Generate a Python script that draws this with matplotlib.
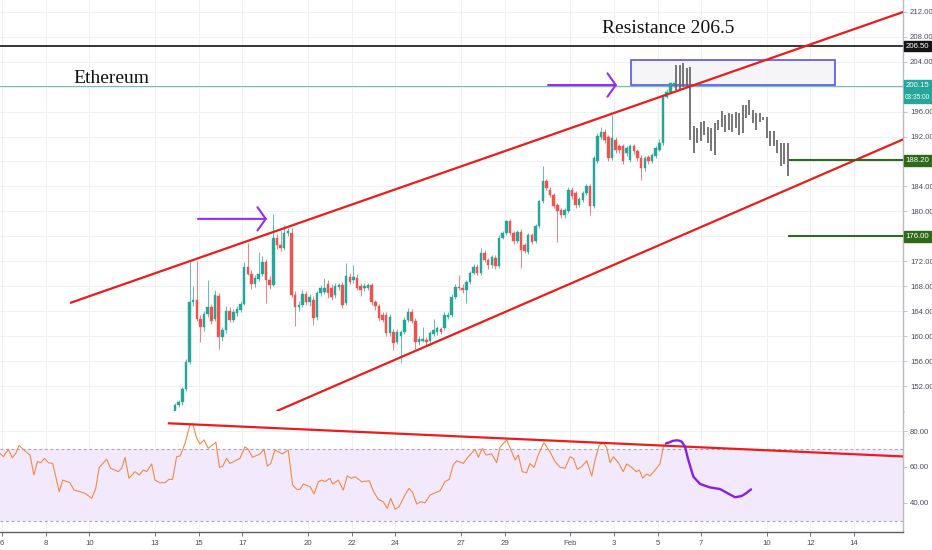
import matplotlib
matplotlib.use("Agg")
import matplotlib.pyplot as plt
import numpy as np
import pandas as pd
from matplotlib.transforms import blended_transform_factory
from matplotlib.patches import Rectangle
from matplotlib import font_manager as fm

# ---------------- data ----------------
base_date = pd.Timestamp("2020-01-06")
tick_dates = ["2020-01-06", "2020-01-08", "2020-01-10", "2020-01-13", "2020-01-15", "2020-01-17",
              "2020-01-20", "2020-01-22", "2020-01-24", "2020-01-27", "2020-01-29", "2020-02-01",
              "2020-02-03", "2020-02-05", "2020-02-07", "2020-02-10", "2020-02-12", "2020-02-14"]
tick_labels = ["6", "8", "10", "13", "15", "17", "20", "22", "24", "27", "29", "Feb",
               "3", "5", "7", "10", "12", "14"]

candle_start = pd.Timestamp("2020-01-13 22:00")  # 4H candles
opens = [147.4,149.0,149.4,151.5,155.8,165.5,165.8,162.7,161.5,163.5,
         164.6,162.8,166.4,159.8,161.0,164.1,162.6,163.7,164.2,165.2,
         171.1,170.0,168.4,169.1,170.0,171.9,169.0,168.2,175.7,174.6,
         174.1,176.5,176.6,166.6,164.7,165.0,166.8,165.5,165.8,163.0,
         166.9,167.1,168.4,167.8,166.6,167.9,168.2,165.3,169.5,169.0,
         169.4,168.0,167.7,167.8,168.2,165.4,164.8,163.4,163.4,160.5,
         160.7,159.1,160.0,160.7,162.6,163.8,162.5,159.1,159.3,159.4,
         159.2,160.4,160.6,161.1,161.3,163.1,163.4,166.3,167.9,167.8,
         167.4,168.7,170.2,171.1,170.1,173.3,172.2,171.4,172.6,171.2,
         175.8,176.5,178.4,176.5,175.2,176.7,174.6,173.5,176.2,175.3,
         177.7,181.6,184.8,183.5,182.6,181.0,180.2,179.4,180.0,183.5,
         182.9,181.0,181.8,182.9,184.0,180.8,188.0,191.9,192.8,191.9,
         188.5,191.5,190.4,190.4,189.3,188.2,190.4,189.6,188.5,186.9,
         188.7,188.0,188.9,189.9,190.9,198.4,199.2,200.3]
highs = [149.3,149.8,151.8,156.4,172.0,168.0,172.0,163.4,164.0,169.0,
         165.2,167.4,167.0,161.5,164.8,164.6,164.3,164.8,165.6,171.9,
         174.9,170.6,169.8,173.5,172.8,172.4,169.6,179.6,176.4,176.8,
         177.8,177.3,177.4,167.2,165.6,167.4,167.3,166.8,166.4,167.3,
         168.2,169.3,169.0,168.3,168.6,168.6,168.7,171.7,170.2,171.4,
         169.9,168.5,168.6,168.6,168.5,165.8,165.2,163.9,163.8,163.6,
         161.2,161.1,161.0,163.0,164.5,164.3,162.9,160.0,161.5,159.9,
         160.9,162.7,161.7,161.5,163.8,163.8,166.7,168.3,169.8,168.3,
         169.0,170.5,171.5,171.6,174.1,173.8,172.6,173.0,173.0,176.2,
         176.9,178.6,178.7,176.9,177.0,177.1,175.0,176.6,176.6,178.0,
         181.9,187.2,185.2,183.9,183.0,181.4,180.6,180.6,183.9,183.9,
         183.3,182.3,183.3,184.4,184.4,188.9,192.5,193.6,193.2,192.3,
         195.4,191.9,190.8,190.8,190.5,190.8,190.8,190.0,189.0,188.9,
         189.1,189.4,190.5,191.6,198.8,199.6,200.9,201.0]
lows = [147.0,148.6,149.0,151.2,155.5,164.8,162.4,159.1,160.8,163.0,
        162.0,162.5,157.9,159.2,160.5,162.3,162.2,163.3,163.8,165.0,
        169.8,167.6,167.9,168.8,169.6,165.3,167.5,168.0,174.0,173.6,
        173.8,176.0,166.3,161.6,164.0,164.6,165.0,164.8,161.8,162.6,
        166.5,166.8,166.2,165.8,166.2,167.4,164.5,165.0,168.3,168.6,
        167.4,166.5,167.3,167.4,165.0,164.2,162.5,162.2,160.1,160.0,
        157.8,158.7,155.7,160.3,162.3,162.1,158.0,158.6,159.0,158.6,
        158.9,160.0,160.2,160.3,161.0,162.8,163.1,166.0,167.4,167.0,
        165.3,168.4,169.9,169.8,169.8,171.9,170.8,171.0,170.7,170.9,
        175.5,176.2,176.2,174.8,174.9,171.0,173.3,173.2,174.7,175.0,
        177.4,181.3,183.4,182.3,180.5,175.1,179.0,179.0,179.7,182.0,
        180.6,180.7,181.5,182.6,179.4,180.5,187.7,191.6,191.0,188.1,
        188.2,189.4,189.4,187.6,188.9,187.9,189.2,188.1,185.0,186.5,
        187.6,187.7,188.6,189.6,190.6,198.1,198.9,200.0]
closes = [149.0,149.5,151.5,155.9,165.5,165.8,162.7,161.5,163.5,164.6,
          162.5,166.6,159.8,161.0,164.1,162.6,163.9,164.3,165.2,171.1,
          170.0,168.4,169.3,170.0,171.9,169.0,168.2,175.7,174.6,174.1,
          176.5,176.8,166.6,164.7,165.0,166.8,165.5,166.3,162.9,166.9,
          167.7,167.8,166.9,166.3,168.0,168.2,165.0,169.6,168.7,169.5,
          167.8,167.4,168.0,168.2,165.4,164.8,162.9,162.6,160.5,163.1,
          158.9,160.7,160.7,162.6,163.8,162.5,159.1,159.6,159.6,159.0,
          160.5,161.0,161.3,160.6,163.4,163.4,166.3,167.9,167.7,167.4,
          168.7,170.2,171.1,170.1,173.3,172.2,171.4,172.7,171.2,175.8,
          176.5,178.4,176.5,175.2,176.7,173.8,173.7,176.2,175.1,177.7,
          181.6,184.8,183.7,182.6,180.8,180.0,179.4,180.2,183.5,182.4,
          181.0,182.0,183.0,184.0,180.8,188.5,192.1,192.8,191.4,188.5,
          191.7,189.8,189.8,188.0,190.1,190.4,189.6,188.5,186.9,188.5,
          188.0,189.0,190.1,191.0,198.4,199.2,200.5,200.6]

# projected "bars pattern" (grey) highs / lows
proj_high = [203.5,203.5,203.7,202.9,203.2,193.7,193.3,194.4,194.5,193.6,193.3,194.1,194.7,
             196.1,195.4,195.7,195.6,195.9,195.7,197.0,197.0,197.9,196.3,195.7,195.8,195.2,
             195.1,192.9,192.9,191.4,191.0,190.9,190.9]
proj_low = [199.5,199.5,200.0,200.0,191.4,189.3,190.9,191.2,192.2,190.9,189.6,189.0,193.1,
            193.6,192.8,193.0,192.8,193.3,192.2,192.5,194.9,195.4,194.2,193.1,194.4,194.6,
            191.7,190.4,190.4,189.3,187.2,187.6,185.6]

# RSI (day offset from Jan 6, value)
rsi_day = [-0.09,0.06,0.29,0.47,0.63,0.78,0.97,1.28,1.46,1.62,1.77,1.94,2.12,2.32,2.62,2.78,
           3.11,3.30,3.57,3.80,4.11,4.29,4.45,4.79,4.97,5.32,5.48,5.63,5.81,6.09,6.28,6.47,
           6.62,6.85,7.00,7.23,7.46,7.64,7.81,7.99,8.15,8.38,8.60,8.73,8.91,9.06,9.24,9.44,
           9.79,9.95,10.10,10.28,10.43,10.89,11.12,11.27,11.46,11.81,11.99,12.14,12.30,12.49,
           12.83,13.10,13.30,13.49,13.64,13.79,14.10,14.28,14.48,14.63,14.78,15.01,
           15.13,15.39,15.62,15.80,16.00,16.16,16.46,16.81,16.99,17.22,17.45,17.63,17.79,
           17.99,18.17,18.44,18.63,18.80,18.98,19.16,19.36,19.59,19.82,20.05,20.27,20.47,
           20.65,20.81,21.11,21.34,21.65,21.80,21.98,22.15,22.41,22.64,22.79,23.10,23.33,
           23.48,23.63,23.81,24.01,24.16,24.35,24.54,24.80,25.08,25.31,25.54,25.77,26.00,
           26.15,26.33,26.53,26.76,26.99,27.14,27.34,27.52,27.67,27.83,27.98,28.21,28.43,
           28.59,28.82,29.02,29.17,29.32,29.51,29.66,29.89,30.11,30.27,30.39]
rsi_val = [67.5,65.6,69.8,65.1,67.5,72.0,69.8,66.6,55.4,62.9,62.3,64.7,62.3,61.9,46.1,52.6,
           51.1,47.0,46.1,45.2,42.4,48.0,59.7,64.2,59.2,57.3,59.2,65.3,53.6,57.3,55.4,58.2,
           57.3,61.6,52.6,51.1,51.1,53.0,53.0,65.6,66.0,73.1,83.4,84.0,75.9,72.7,75.0,70.3,
           73.7,59.7,60.3,64.7,61.9,64.7,71.2,69.8,65.3,67.2,69.8,60.4,61.9,69.4,
           67.2,69.4,49.8,47.4,47.4,50.4,48.9,44.8,51.7,52.6,51.7,53.6,
           50.4,52.6,47.0,54.9,53.6,54.5,51.7,52.2,46.6,41.8,40.5,36.8,42.4,
           36.3,37.7,44.2,48.0,45.5,39.2,40.5,39.9,44.2,45.5,46.6,51.7,53.0,
           61.0,63.4,61.9,65.6,69.8,65.3,70.3,66.6,67.2,62.3,70.9,75.0,68.4,
           63.8,66.6,57.3,56.7,61.9,59.7,66.6,73.5,68.4,62.9,59.7,59.2,65.6,
           64.7,58.6,60.1,63.4,54.9,63.8,72.2,73.1,70.9,62.3,65.6,62.3,57.3,
           61.6,59.7,57.3,58.2,53.6,56.0,54.9,58.2,61.6,71.2,73.1]

# hand-drawn RSI projection (purple)
proj_rsi_day = [30.39,30.53,30.70,30.88,31.00,31.11,31.26,31.41,31.64,31.95,32.40,32.86,33.17,
                33.55,33.85,34.05,34.28]
proj_rsi_val = [73.1,73.6,74.5,74.8,74.6,74.0,71.2,63.8,54.5,50.4,48.5,47.6,45.5,43.0,43.7,
                45.2,47.4]

# drawings: (day, price) endpoints
upper_channel = ([3.11, 41.24], [165.32, 211.95])
lower_channel = ([12.57, 41.24], [148.0, 191.54])
rsi_trend = ([7.64, 41.24], [84.3, 65.8])
arrows = [((8.97, 178.8), (12.13, 178.8)), ((24.99, 200.25), (28.15, 200.25))]
box_days = (28.79, 38.12)
box_prices = (200.25, 204.26)
resistance = 206.5
last_price = 200.15
countdown = "03:35:00"
targets = [(36.0, 188.2), (35.95, 176.0)]
price_ticks = list(range(152, 213, 4))
rsi_ticks = [40, 60, 80]

# ---------------- style ----------------
names = {f.name for f in fm.fontManager.ttflist}
narrow = "Liberation Sans Narrow" if "Liberation Sans Narrow" in names else "Liberation Sans"
serif = "Liberation Serif"
LS = 5.6  # axis label size

UP, DOWN = "#26a69a", "#ef5350"
GRID = "#eff1f4"
RED = "#ee1b1b"
PURPLE = "#9a2cf0"
GREEN = "#2f6a1b"

fig = plt.figure(figsize=(9.32, 5.5), dpi=100)
axp = fig.add_axes([0.0, 0.2518, 0.9689, 0.7482])
axr = fig.add_axes([0.0, 0.03273, 0.9689, 0.2191], sharex=axp)

x_left, x_right = -0.0915, 41.236
axp.set_xlim(x_left, x_right)
axp.set_ylim(147.93, 213.875)
axr.set_ylim(23.6, 90.9)

tick_days = ((pd.to_datetime(tick_dates) - base_date) / pd.Timedelta(days=1)).values

for ax in (axp, axr):
    ax.set_facecolor("white")
    for s in ("top", "left"):
        ax.spines[s].set_visible(False)
    ax.spines["right"].set_color("#b8bbc2")
    ax.spines["right"].set_linewidth(1.0)
    ax.spines["bottom"].set_color("#5d606b")
    ax.spines["bottom"].set_linewidth(1.0)
    ax.yaxis.tick_right()
    ax.tick_params(axis="y", which="both", direction="out", length=3, width=0.6,
                   colors="#b8bbc2", labelcolor="#4a4e59", labelsize=LS, pad=2)
    ax.set_xticks(tick_days)
    for d in tick_days:
        ax.axvline(d, color=GRID, lw=0.8, zorder=0)

# tick labels hidden behind the price tags in the reference are left blank
covered = {200, 188, 176}
axp.set_yticks(price_ticks)
axp.set_yticklabels(["" if v in covered else f"{v:.2f}" for v in price_ticks], fontfamily=narrow)
for v in price_ticks:
    axp.axhline(v, color=GRID, lw=0.8, zorder=0)
axp.tick_params(axis="x", length=0, labelbottom=False)

axr.set_yticks(rsi_ticks)
axr.set_yticklabels([f"{v:.2f}" for v in rsi_ticks], fontfamily=narrow)
for v in rsi_ticks:
    axr.axhline(v, color=GRID, lw=0.8, zorder=0)
axr.set_xticklabels(tick_labels, fontfamily=narrow)
axr.tick_params(axis="x", direction="out", length=3, width=0.6, colors="#5d606b",
                labelcolor="#4a4e59", labelsize=LS, pad=2.5)

# ---------------- candles ----------------
o = np.array(opens); h = np.array(highs); l = np.array(lows); c = np.array(closes)
t = ((candle_start + pd.to_timedelta(np.arange(len(o)) * 4, unit="h") - base_date)
     / pd.Timedelta(days=1)).values
cols = np.where(c >= o, UP, DOWN)
axp.vlines(t, l, h, colors=cols, lw=0.6, alpha=0.85, zorder=3)
body_lo = np.minimum(o, c)
body_h = np.maximum(np.abs(c - o), 0.15)
axp.bar(t, body_h, bottom=body_lo, width=0.115, color=cols, edgecolor=cols, lw=0.3, zorder=4)

# projected grey bars
proj_start, proj_step = 30.85, 0.16
pt = proj_start + proj_step * np.arange(len(proj_high))
axp.vlines(pt, proj_low, proj_high, colors="#6b6b6b", lw=1.3, zorder=5)

# ---------------- drawings ----------------
axp.axhline(resistance, color="#131313", lw=1.2, zorder=2)
axp.axhline(last_price, color="#6cc2b8", lw=0.8, zorder=2)
axp.add_patch(Rectangle((box_days[0], box_prices[0]), box_days[1] - box_days[0],
                        box_prices[1] - box_prices[0], facecolor="#f4f4f6", alpha=0.85,
                        edgecolor="#3a3ae0", lw=1.2, zorder=3))
axp.plot(*upper_channel, color=RED, lw=1.6, zorder=6, solid_capstyle="butt")
axp.plot(*lower_channel, color=RED, lw=1.6, zorder=6, solid_capstyle="butt")
for (x0, y0), (x1, y1) in arrows:
    axp.annotate("", xy=(x1, y1), xytext=(x0, y0),
                 arrowprops=dict(arrowstyle="->,head_length=0.3,head_width=0.42",
                                 color=PURPLE, lw=1.5, mutation_scale=20,
                                 shrinkA=0, shrinkB=0), zorder=7)
for d0, p in targets:
    axp.plot([d0, x_right], [p, p], color=GREEN, lw=1.5, zorder=6, solid_capstyle="butt")

axp.text(3.25, 200.6, "Ethereum", fontfamily=serif, fontsize=14, color="#111111",
         ha="left", va="baseline", zorder=8)
axp.text(27.45, 208.6, "Resistance 206.5", fontfamily=serif, fontsize=14,
         color="#111111", ha="left", va="baseline", zorder=8)

# right price tags
btr = blended_transform_factory(axp.transAxes, axp.transData)
def tag(y, txt, bg, dy=0.0, size=LS, dx=2.0):
    axp.annotate(txt, xy=(1.0, y), xycoords=btr, xytext=(dx, dy), textcoords="offset points",
                 ha="left", va="center", fontsize=size, fontfamily=narrow, color="white",
                 bbox=dict(boxstyle="square,pad=0.25", fc=bg, ec=bg), annotation_clip=False,
                 zorder=10)
tag(resistance, f"{resistance:.2f}", "#131313")
tag(last_price, f"{last_price:.2f}", "#26a69a")
tag(last_price, countdown, "#26a69a", dy=-8.5, size=4.7, dx=1.6)
for d0, p in targets:
    tag(p, f"{p:.2f}", GREEN)

# ---------------- RSI ----------------
axr.axhspan(30, 70, color="#f3e9fd", zorder=0.5, lw=0)
axr.axhline(70, color="#a9a4b3", lw=0.8, ls=(0, (2.5, 2.5)), zorder=1)
axr.axhline(30, color="#a9a4b3", lw=0.8, ls=(0, (2.5, 2.5)), zorder=1)
axr.plot(rsi_day, rsi_val, color="#f08a44", lw=0.8, zorder=3)
axr.plot(*rsi_trend, color=RED, lw=1.6, zorder=4)
axr.plot(proj_rsi_day, proj_rsi_val, color="#8a1ee6", lw=1.7, zorder=5,
         solid_capstyle="round", solid_joinstyle="round")

fig.savefig("out.png", dpi=100, facecolor="white")
